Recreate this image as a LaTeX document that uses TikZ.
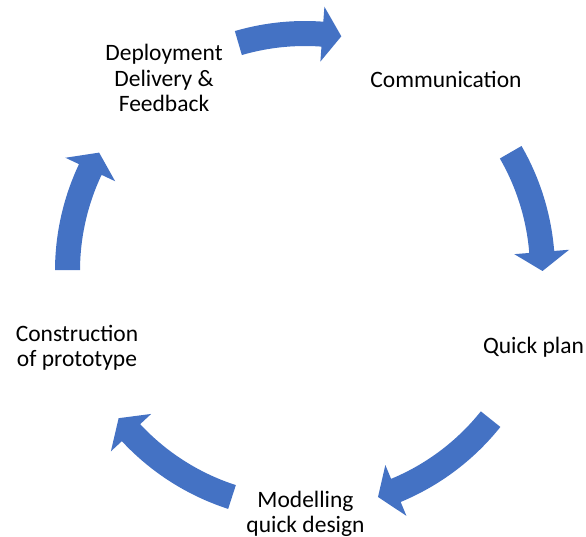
\documentclass[tikz,border=0pt]{standalone}
\usepackage{fontspec}
\setmainfont{Carlito}
\definecolor{cycleblue}{HTML}{4472C4}
\tikzset{stage/.style={align=center,inner sep=0pt,font=\fontsize{23.5}{25.5}\selectfont},
  cycle arrow/.style={fill=cycleblue,draw=none}}

\begin{document}
\begin{tikzpicture}
  \useasboundingbox (-305pt,-266pt) rectangle (281pt,271pt);

  %stages
  \node[stage] (deploy) at (-141pt,193pt) {Deployment\\Delivery \&\\Feedback};
  \node[stage] (comm) at (141pt,192pt) {Communication};
  \node[stage] (plan) at (228.5pt,-76pt) {Quick plan};
  \node[stage] (model) at (0.5pt,-243pt) {Modelling\\quick design};
  \node[stage] (build) at (-228pt,-77pt) {Construction\\of prototype};

  %arrows
  \foreach \tail/\tip in {106.3/81.2,30/0,-38.6/-72.1,-107.9/-141.7,179.8/150.1}{
    \pgfmathsetmacro{\base}{\tip+4.6}
    \fill[cycle arrow] (\tail:250pt) arc[start angle=\tail,end angle=\base,radius=250pt]
      -- (\base:265pt) -- (\tip:237.5pt) -- (\base:210pt) -- (\base:225pt)
      arc[start angle=\base,end angle=\tail,radius=225pt] -- cycle;
  }
\end{tikzpicture}
\end{document}
